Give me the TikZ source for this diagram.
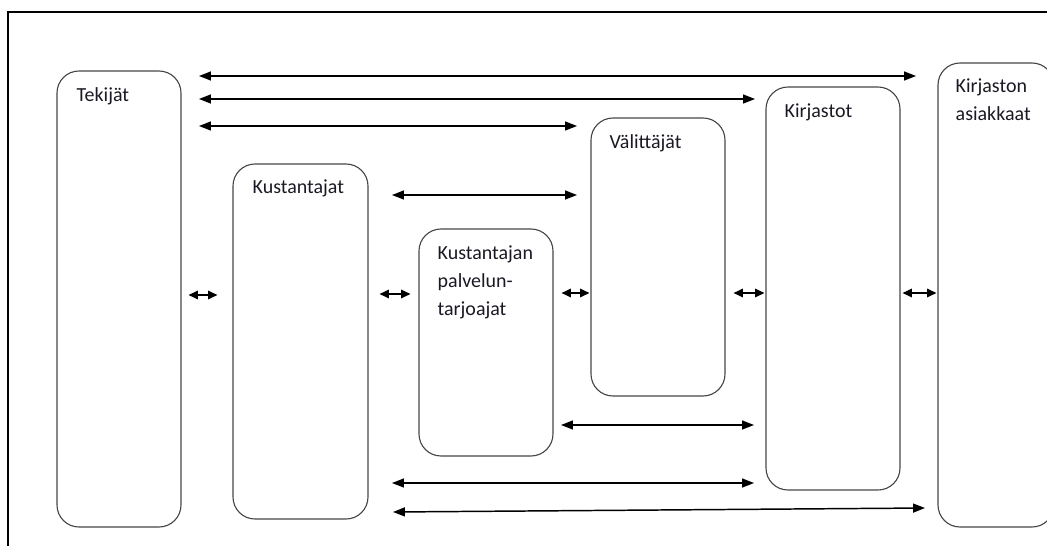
\documentclass[tikz,border=0pt]{standalone}
\usepackage{fontspec}
\setmainfont{Carlito}
\usetikzlibrary{arrows.meta, positioning, fit}
\definecolor{boxgray}{RGB}{70,70,70}
\definecolor{txtcol}{RGB}{25,25,35}

\begin{document}
\begin{tikzpicture}[x=0.025cm, y=-0.025cm,
    box/.style={draw=boxgray, line width=0.8pt, rounded corners=0.55cm, inner sep=0pt},
    lbl/.style={anchor=north west, inner sep=0pt, align=left, text=txtcol,
                font=\fontsize{14.2}{20}\selectfont},
    biarrow/.style={{Triangle[length=8.5pt,width=6.4pt]}-{Triangle[length=8.5pt,width=6.4pt]}, line width=1.05pt},
    shortarrow/.style={{Triangle[length=6.6pt,width=6pt]}-{Triangle[length=6.6pt,width=6pt]}, line width=1.05pt}]
    \useasboundingbox (0,0) rectangle (1047,546);
    \clip (0,0) rectangle (1047,546);

    % Kehys
    \draw[line width=1.4pt] (8,560) -- (8,12) -- (1060,12);

    % Toimijat
    \node[box, fit={(57,71) (181,527)}]   (tek) {};
    \node[box, fit={(233,164) (368,519)}] (kus) {};
    \node[box, fit={(419,229) (553,456)}] (pal) {};
    \node[box, fit={(591,118) (725,396)}] (val) {};
    \node[box, fit={(766,87) (900,490)}]  (kir) {};
    \node[box, fit={(938,63) (1054,527)}] (asi) {};

    % Nimet
    \node[lbl] (tekT) at ([shift={(20,11)}]tek.north west) {\strut Tekijät};
    \node[lbl] (kusT) at ([shift={(20,10)}]kus.north west) {\strut Kustantajat};
    \node[lbl] (palT) at ([shift={(19,11)}]pal.north west) {\strut Kustantajan\\palvelun-\\tarjoajat};
    \node[lbl] (valT) at ([shift={(19,11)}]val.north west) {\strut Välittäjät};
    \node[lbl] (kirT) at ([shift={(19,11)}]kir.north west) {\strut Kirjastot};
    \node[lbl] (asiT) at ([shift={(18,10)}]asi.north west) {\strut Kirjaston\\asiakkaat};

    % Nuolten päät
    \coordinate (a1) at (199,76);  \coordinate (b1) at (916,76);
    \coordinate (a2) at (199,99);  \coordinate (b2) at (755,99);
    \coordinate (a3) at (199,126); \coordinate (b3) at (577,126);
    \coordinate (a4) at (392,195); \coordinate (b4) at (577,195);
    \coordinate (a5) at (561,425); \coordinate (b5) at (754,425);
    \coordinate (a6) at (392,483); \coordinate (b6) at (754,483);
    \coordinate (a7) at (393,512); \coordinate (b7) at (925,508);

    % Pitkät nuolet
    \draw[biarrow] (a1) -- (b1);
    \draw[biarrow] (a2) -- (b2);
    \draw[biarrow] (a3) -- (b3);
    \draw[biarrow] (a4) -- (b4);
    \draw[biarrow] (a5) -- (b5);
    \draw[biarrow] (a6) -- (b6);
    \draw[biarrow] (a7) -- (b7);

    % Lyhyet nuolet
    \draw[shortarrow] ([shift={(7,0)}]tek.east |- 0,295)  -- ([shift={(-15,0)}]kus.west |- 0,295);
    \draw[shortarrow] ([shift={(11,0)}]kus.east |- 0,294) -- ([shift={(-8,0)}]pal.west |- 0,294);
    \draw[shortarrow] ([shift={(8,0)}]pal.east |- 0,293)  -- ([shift={(-1,0)}]val.west |- 0,293);
    \draw[shortarrow] ([shift={(8,0)}]val.east |- 0,293)  -- ([shift={(-1,0)}]kir.west |- 0,293);
    \draw[shortarrow] ([shift={(2,0)}]kir.east |- 0,293)  -- ([shift={(-1,0)}]asi.west |- 0,293);

\end{tikzpicture}
\end{document}
